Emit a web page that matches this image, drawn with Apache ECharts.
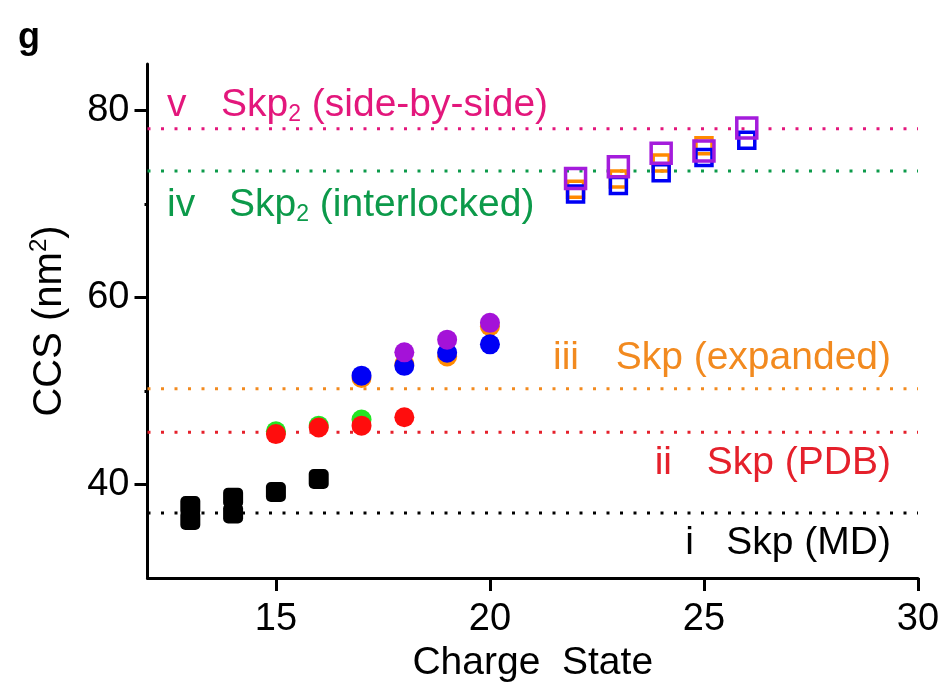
<!DOCTYPE html>
<html>
<head>
<meta charset="utf-8">
<script src="https://cdn.jsdelivr.net/npm/echarts@6/dist/echarts.min.js"></script>
<style>
  html, body { margin: 0; padding: 0; background: #fff; }
  #container { width: 946px; height: 693px; }
</style>
</head>
<body>
<div id="container"></div>
<script>
// CCS vs charge state
var xTicks = [15, 20, 25, 30];
var yTicks = [40, 60, 80];
var yMinorTicks = [50, 70];

// i Skp (MD) reference: black filled squares
var mdX = [13, 13, 14, 14, 15, 16];
var mdY = [37.7, 36.2, 38.6, 36.9, 39.2, 40.6];

// filled circles
var greenX = [15, 16, 17];
var greenY = [45.7, 46.3, 46.95];
var redX = [15, 16, 17, 18];
var redY = [45.4, 46.1, 46.3, 47.2];
var orangeX = [17, 18, 19, 20];
var orangeY = [51.4, 52.9, 53.7, 56.95];
var blueX = [17, 18, 19, 20];
var blueY = [51.65, 52.7, 54.1, 55.0];
var purpleX = [18, 19, 20];
var purpleY = [54.15, 55.5, 57.3];

// hollow squares (dimers)
var oSqX = [22, 23, 24, 25];
var oSqY = [71.6, 72.7, 74.4, 76.25];
var bSqX = [22, 23, 24, 25, 26];
var bSqY = [71.1, 72.0, 73.35, 75.0, 76.85];
var pSqX = [22, 23, 24, 25, 26];
var pSqY = [72.75, 74.0, 75.45, 75.7, 78.15];

// reference levels
var refNames = ['i', 'ii', 'iii', 'iv', 'v'];
var refValues = [36.95, 45.6, 50.25, 73.55, 78.06];
var refColors = ['#000000', '#e5202b', '#f28a1f', '#0c9a4a', '#e3177c'];

var pairs = function (xs, ys) {
  return xs.map(function (x, i) { return [x, ys[i]]; });
};

var dom = document.getElementById('container');
var myChart = echarts.init(dom);
var font = 'Liberation Sans, Arial, sans-serif';

var series = [];
refValues.forEach(function (v, i) {
  series.push({
    name: refNames[i],
    type: 'line',
    data: [[12, v], [30, v]],
    symbol: 'none',
    silent: true,
    lineStyle: { color: refColors[i], width: 3, type: [3, 10.5], cap: 'butt' },
    z: 1
  });
});

series.push({
  type: 'scatter', data: pairs(mdX, mdY), symbol: 'roundRect', symbolSize: 20,
  itemStyle: { color: '#000', opacity: 1 }, z: 3
});

var circ = function (xs, ys, c) {
  return {
    type: 'scatter', data: pairs(xs, ys), symbol: 'circle', symbolSize: 20,
    itemStyle: { color: c, opacity: 1 }, z: 3
  };
};
series.push(circ(greenX, greenY, '#22e622'));
series.push(circ(redX, redY, '#ff0d0d'));
series.push(circ(orangeX, orangeY, '#ff8a00'));
series.push(circ(blueX, blueY, '#0000f5'));
series.push(circ(purpleX, purpleY, '#a412d8'));

var sq = function (xs, ys, c, size) {
  return {
    type: 'scatter', data: pairs(xs, ys), symbol: 'rect', symbolSize: size,
    itemStyle: { color: 'rgba(0,0,0,0)', borderColor: c, borderWidth: 3.5, opacity: 1 }, z: 3
  };
};
series.push(sq(oSqX, oSqY, '#ff8a00', 16));
series.push(sq(bSqX, bSqY, '#0000f5', 16));
series.push(sq(pSqX, pSqY, '#a41cdc', 20));

var labelStyle = function (c) {
  return {
    fontSize: 39, fontFamily: font, fill: c,
    rich: { sub: { fontSize: 23, fontFamily: font, padding: [19, 0, 0, 0] } }
  };
};
var txt = function (left, top, text, c, align) {
  var st = labelStyle(c);
  st.text = text;
  st.textAlign = align || 'left';
  st.textVerticalAlign = 'middle';
  return { type: 'text', x: left, y: top, style: st, z: 10 };
};

var option = {
  animation: false,
  grid: { left: 147.5, right: 28, top: 64, bottom: 115 },
  xAxis: {
    type: 'value', min: 12, max: 30,
    name: 'Charge  State', nameLocation: 'middle', nameGap: 66,
    nameTextStyle: { fontSize: 39, fontFamily: font, color: '#000' },
    axisLine: { lineStyle: { color: '#000', width: 3 } },
    axisTick: { customValues: xTicks, length: 13, lineStyle: { width: 3, color: '#000' } },
    axisLabel: { customValues: xTicks, fontSize: 38, fontFamily: font, color: '#000', margin: 23 },
    splitLine: { show: false }
  },
  yAxis: [{
    type: 'value', min: 30, max: 85,
    name: 'CCS (nm{sup|2})', nameLocation: 'middle', nameGap: 76,
    nameTextStyle: { fontSize: 40, fontFamily: font, color: '#000',
      rich: { sup: { fontSize: 24, fontFamily: font, padding: [0, 0, 20, 0] } } },
    axisLine: { show: true, lineStyle: { color: '#000', width: 3 } },
    axisTick: { customValues: yTicks, length: 13, lineStyle: { width: 3, color: '#000' } },
    axisLabel: { customValues: yTicks, fontSize: 38, fontFamily: font, color: '#000', margin: 18 },
    splitLine: { show: false }
  }, {
    type: 'value', min: 30, max: 85, position: 'left',
    axisLine: { show: false },
    axisTick: { customValues: yMinorTicks, length: 3, lineStyle: { width: 3, color: '#000' } },
    axisLabel: { show: false },
    splitLine: { show: false }
  }],
  graphic: [
    { type: 'text', left: 18, top: 20, style: { text: 'g', fontSize: 36, fontWeight: 'bold', fontFamily: font, fill: '#000' } },
    txt(167, 105, 'v', refColors[4]),
    txt(221, 105, 'Skp{sub|2} (side-by-side)', refColors[4]),
    txt(167, 205, 'iv', refColors[3]),
    txt(229, 205, 'Skp{sub|2} (interlocked)', refColors[3]),
    txt(579, 358, 'iii', refColors[2], 'right'),
    txt(891, 358, 'Skp (expanded)', refColors[2], 'right'),
    txt(672, 463, 'ii', refColors[1], 'right'),
    txt(891, 463, 'Skp (PDB)', refColors[1], 'right'),
    txt(694, 543, 'i', refColors[0], 'right'),
    txt(891, 543, 'Skp (MD)', refColors[0], 'right')
  ],
  series: series
};

if (option && typeof option === 'object') {
  myChart.setOption(option, true);
}
</script>
</body>
</html>
